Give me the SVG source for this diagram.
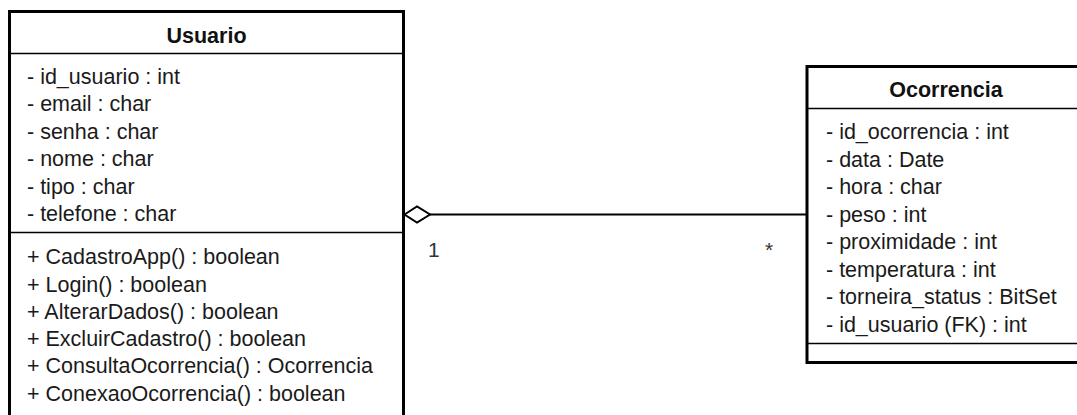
<svg xmlns="http://www.w3.org/2000/svg" width="1077" height="415" viewBox="0 0 1077 415">
  <style>
    .box { fill: #ffffff; stroke: #000000; stroke-width: 3; }
    .sep { stroke: #000000; stroke-width: 1.5; fill: none; }
    .title { font-family: "Liberation Sans", Arial, sans-serif; font-size: 21.5px; font-weight: bold; fill: #111111; text-anchor: middle; }
    .member { font-family: "Liberation Sans", Arial, sans-serif; font-size: 21.5px; fill: #1a1a1a; }
    .label { font-family: "Liberation Sans", Arial, sans-serif; font-size: 21px; fill: #333333; }
    .conn { stroke: #000000; stroke-width: 2; fill: none; }
    .diamond { stroke: #000000; stroke-width: 2; fill: #ffffff; }
  </style>
  <rect x="0" y="0" width="1077" height="415" fill="#ffffff"/>

  <g id="connectors">
    <line class="conn" x1="430" y1="214.5" x2="807" y2="214.5"/>
    <polygon class="diamond" points="404.5,214.5 417,206.5 430,214.5 417,222.5"/>
    <text class="label" x="428" y="256.5">1</text>
    <text class="label" x="765" y="256.5">*</text>
  </g>

  <g id="Usuario">
    <rect class="box" x="9.5" y="11.5" width="394" height="430"/>
    <line class="sep" x1="9.5" y1="53.5" x2="403.5" y2="53.5"/>
    <line class="sep" x1="9.5" y1="232.5" x2="403.5" y2="232.5"/>
    <text class="title" x="206.5" y="42.5">Usuario</text>
    <text class="member" x="27" y="83.5">- id_usuario : int</text>
    <text class="member" x="27" y="111">- email : char</text>
    <text class="member" x="27" y="138.5">- senha : char</text>
    <text class="member" x="27" y="166">- nome : char</text>
    <text class="member" x="27" y="193.5">- tipo : char</text>
    <text class="member" x="27" y="221">- telefone : char</text>
    <text class="member" x="27" y="264">+ CadastroApp() : boolean</text>
    <text class="member" x="27" y="291.5">+ Login() : boolean</text>
    <text class="member" x="27" y="319">+ AlterarDados() : boolean</text>
    <text class="member" x="27" y="346">+ ExcluirCadastro() : boolean</text>
    <text class="member" x="27" y="373">+ ConsultaOcorrencia() : Ocorrencia</text>
    <text class="member" x="27" y="401">+ ConexaoOcorrencia() : boolean</text>
  </g>

  <g id="Ocorrencia">
    <rect class="box" x="807" y="66.5" width="278" height="296"/>
    <line class="sep" x1="807" y1="108.5" x2="1085" y2="108.5"/>
    <line class="sep" x1="807" y1="343.5" x2="1085" y2="343.5"/>
    <text class="title" x="946" y="96.5">Ocorrencia</text>
    <text class="member" x="826" y="139">- id_ocorrencia : int</text>
    <text class="member" x="826" y="166.5">- data : Date</text>
    <text class="member" x="826" y="194">- hora : char</text>
    <text class="member" x="826" y="221.5">- peso : int</text>
    <text class="member" x="826" y="249">- proximidade : int</text>
    <text class="member" x="826" y="276.5">- temperatura : int</text>
    <text class="member" x="826" y="304">- torneira_status : BitSet</text>
    <text class="member" x="826" y="331.5">- id_usuario (FK) : int</text>
  </g>
</svg>
